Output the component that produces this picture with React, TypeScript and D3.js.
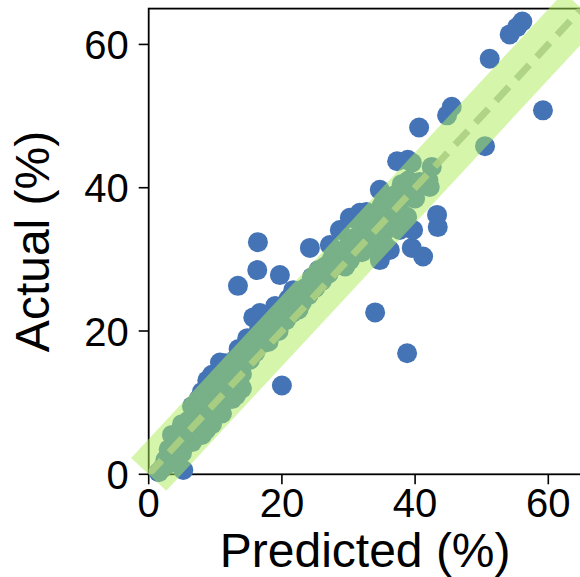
import React, { useRef, useEffect } from "react";
import * as d3 from "d3";

// predicted vs actual (%)
const predicted = [
  1.5, 5.2, 2.5, 3, 3.5, 4, 4.5, 5, 5.5, 6, 6, 6.5, 7, 7, 7.5, 8, 8, 8.5, 8.8, 9,
  9, 9.5, 9.5, 10, 10, 10.5, 10.7, 11, 11, 11.5, 12, 12, 12.5, 13, 13, 13.5, 14, 14, 14.8, 15,
  15, 15.7, 16, 16.2, 16.7, 16.5, 17, 17.5, 18, 18, 18.5, 19, 19.5, 20, 20, 20.5, 21, 21.5, 22, 22.5,
  23, 23.5, 24, 24.5, 25, 25.5, 26, 26.5, 27, 27.5, 28, 28.7, 29, 29.5, 30, 30.5, 30.5, 31, 32, 32.7,
  32, 33, 33.5, 34, 34, 34.7, 34.7, 35, 35.5, 36, 36.2, 36.5, 37, 37.3, 37.5, 38, 38.9, 38.5, 38.8, 39,
  39.5, 39.7, 40, 40.6, 40.7, 41.2, 42, 42.2, 42.5, 43.3, 43.4, 44.8, 45.5, 50.5, 51.2, 54.2, 55.3, 56.1, 59.2,
  13.4, 16.4, 16.3, 19.7, 24.2, 27.2, 31.7, 30.2, 21.7, 25.3, 27.7, 30.2, 32.2, 33.7, 18.7, 22.7, 15.2, 12.7,
  39.2, 36.7, 35.2, 38.8, 37.7, 35.5, 39.5, 3.5, 5, 6.5, 7.5, 11.5, 13.5, 17, 19, 14.5, 8, 9.5,
  2, 3, 4, 5, 6.5, 8, 8.6, 9.5, 11, 12.5, 13.1, 14, 17.2, 20.6
];
const actual = [
  0.3, 0.6, 2, 3.5, 2.5, 4, 5.5, 4.5, 6.5, 5.5, 7.5, 8, 6.5, 9, 8, 7.5, 10, 9, 13.1, 11,
  8.5, 13.9, 10, 12, 9.5, 11, 15.6, 13, 10.5, 14, 12, 15, 13.5, 16, 12.5, 15, 17, 14, 19, 16,
  18, 21.9, 17, 22, 22.5, 20, 19, 21, 18.5, 22, 20.5, 22, 20, 23, 12.4, 21.5, 24.5, 22.5, 25, 23,
  24, 26, 25, 27.5, 26, 28.5, 27, 29, 28, 30, 29.5, 34.1, 31, 29, 32, 35.8, 30.5, 33, 34, 36.6,
  31, 35, 32, 36, 22.6, 39.7, 29.9, 37.5, 34, 38, 31.3, 35.5, 39, 43.7, 37, 40.5, 43.9, 36, 16.9, 41,
  31.6, 34.1, 38.5, 48.4, 40.8, 30.4, 41, 40.1, 42.9, 36.2, 34.5, 50.1, 51.3, 45.8, 58, 61.4, 62.4, 63.2, 50.8,
  26.3, 32.4, 28.5, 27.8, 31.6, 32, 36.5, 35.8, 25.7, 26.9, 28.9, 29.9, 31.3, 34.1, 22, 23.9, 16, 15.5,
  38.7, 37.8, 36.9, 35.9, 34.1, 31.9, 43.5, 5.5, 7, 9.5, 10.5, 15.5, 17.5, 20.5, 23.5, 17.5, 11.5, 12.5,
  0.8, 1.5, 2, 3, 4.5, 5.5, 6.2, 7, 8.5, 10.5, 11, 12, 18.3, 21.5
];
const xTicks = [0, 20, 40, 60];
const yTicks = [0, 20, 40, 60];
const axisMax = 65;

const App = () => {
  const svgRef = useRef(null);
  const width = 580;
  const height = 577;

  useEffect(() => {
    document.body.style.margin = "0";
    const svg = d3.select(svgRef.current);
    svg.selectAll("*").remove();

    const x = d3.scaleLinear().domain([0, axisMax]).range([148.7, 581.6]);
    const y = d3.scaleLinear().domain([0, axisMax]).range([474.3, 8.6]);
    const font = "'Liberation Sans', Arial, Helvetica, sans-serif";

    // spines
    const [x0, x1] = x.range();
    const [y0, y1] = y.range();
    svg.append("rect")
      .attr("x", x0).attr("y", y1)
      .attr("width", x1 - x0).attr("height", y0 - y1)
      .attr("fill", "none").attr("stroke", "#000").attr("stroke-width", 1.8);

    // ticks
    const tickG = svg.append("g").attr("font-family", font).attr("font-size", 40);
    xTicks.forEach(t => {
      tickG.append("line")
        .attr("x1", x(t)).attr("x2", x(t)).attr("y1", y0).attr("y2", y0 + 10)
        .attr("stroke", "#000").attr("stroke-width", 1.6);
      tickG.append("text")
        .attr("x", x(t)).attr("y", y0 + 43)
        .attr("text-anchor", "middle").text(t);
    });
    yTicks.forEach(t => {
      tickG.append("line")
        .attr("x1", x0 - 10).attr("x2", x0).attr("y1", y(t)).attr("y2", y(t))
        .attr("stroke", "#000").attr("stroke-width", 1.6);
      tickG.append("text")
        .attr("x", x0 - 20).attr("y", y(t) + 14.5)
        .attr("text-anchor", "end").text(t);
    });

    // axis titles
    svg.append("text")
      .attr("x", (x0 + x1) / 2).attr("y", 567)
      .attr("text-anchor", "middle")
      .attr("font-family", font).attr("font-size", 48)
      .text("Predicted (%)");
    svg.append("text")
      .attr("transform", `translate(49, ${(y0 + y1) / 2}) rotate(-90)`)
      .attr("text-anchor", "middle")
      .attr("font-family", font).attr("font-size", 48)
      .text("Actual (%)");

    // points
    const data = predicted.map((p, i) => [p, actual[i]]);
    svg.append("g")
      .selectAll("circle")
      .data(data)
      .join("circle")
      .attr("cx", d => x(d[0]))
      .attr("cy", d => y(d[1]))
      .attr("r", 10)
      .attr("fill", "#4474b6");

    // identity band
    svg.append("line")
      .attr("x1", x(0)).attr("y1", y(0))
      .attr("x2", x(axisMax)).attr("y2", y(axisMax))
      .attr("stroke", "rgb(171,235,87)")
      .attr("stroke-opacity", 0.5)
      .attr("stroke-width", 48);

    // dashed identity line
    svg.append("clipPath").attr("id", "plotclip")
      .append("rect")
      .attr("x", x0).attr("y", y1)
      .attr("width", x1 - x0).attr("height", y0 - y1);
    svg.append("line")
      .attr("clip-path", "url(#plotclip)")
      .attr("x1", x(0)).attr("y1", y(0))
      .attr("x2", x(axisMax)).attr("y2", y(axisMax))
      .attr("stroke", "rgb(172,208,130)")
      .attr("stroke-opacity", 0.9)
      .attr("stroke-width", 7)
      .attr("stroke-dasharray", "19,11");
  });

  return (
    <div>
      <svg ref={svgRef} width={width} height={height}></svg>
    </div>
  );
};

export default App;
